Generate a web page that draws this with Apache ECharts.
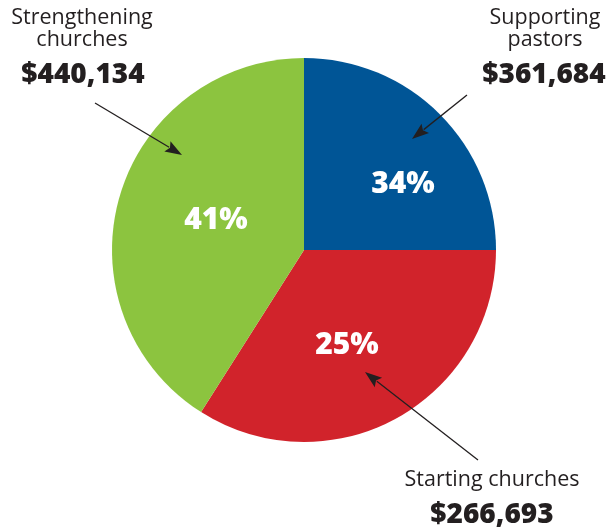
<!DOCTYPE html>
<html>
<head>
<meta charset="utf-8">
<script src="https://cdn.jsdelivr.net/npm/echarts@6/dist/echarts.min.js"></script>
<style>
  html, body { margin: 0; padding: 0; background: #ffffff; }
  #chart { width: 610px; height: 527px; }
</style>
</head>
<body>
<div id="chart"></div>
<script>
// ---- Data ----
const categories = ['Supporting pastors', 'Starting churches', 'Strengthening churches'];
const amountLabels = ['$361,684', '$266,693', '$440,134'];
const percentLabels = ['34%', '25%', '41%'];
// share of the circle each slice occupies as drawn in the reference (clockwise from 12 o'clock)
const sliceShares = [25, 34, 41];
const sliceColors = ['#005596', '#d1232b', '#8cc43f'];

const TEXT = '#231f20';
const FONT = '"Open Sans", "Noto Sans", sans-serif';

const chart = echarts.init(document.getElementById('chart'), null, { renderer: 'canvas' });

function arrow(x1, y1, x2, y2) {
  const dx = x2 - x1, dy = y2 - y1;
  const len = Math.sqrt(dx * dx + dy * dy);
  const ux = dx / len, uy = dy / len;
  const headLen = 17, halfW = 6;
  const bx = x2 - ux * headLen, by = y2 - uy * headLen;
  return [
    { type: 'line', silent: true, z: 100, shape: { x1: x1, y1: y1, x2: bx + ux * 2, y2: by + uy * 2 },
      style: { stroke: TEXT, lineWidth: 1.3 } },
    { type: 'polygon', silent: true, z: 100,
      shape: { points: [[x2, y2], [bx - uy * halfW, by + ux * halfW], [bx + ux * 3, by + uy * 3], [bx + uy * halfW, by - ux * halfW]] },
      style: { fill: TEXT } }
  ];
}

function textEl(x, y, t, font, fill) {
  return { type: 'text', silent: true, z: 100, x: x, y: y,
    style: { text: t, fill: fill, font: font, textAlign: 'center', textVerticalAlign: 'middle' } };
}

const REG = '21.5px ' + FONT;
const BOLD = '800 28px ' + FONT;

const graphics = [
  textEl(82, 18, 'Strengthening', REG, TEXT),
  textEl(82, 40, 'churches', REG, TEXT),
  textEl(83, 75, amountLabels[2], BOLD, TEXT),
  textEl(545, 18, 'Supporting', REG, TEXT),
  textEl(545, 40, 'pastors', REG, TEXT),
  textEl(544, 75, amountLabels[0], BOLD, TEXT),
  textEl(492, 480, 'Starting churches', REG, TEXT),
  textEl(492, 515, amountLabels[1], BOLD, TEXT),
  textEl(403, 184, percentLabels[0], '800 30px ' + FONT, '#ffffff'),
  textEl(216, 220, percentLabels[2], '800 30px ' + FONT, '#ffffff'),
  textEl(347, 345, percentLabels[1], '800 30px ' + FONT, '#ffffff')
]
  .concat(arrow(95, 103, 182, 155))
  .concat(arrow(467, 95, 412, 139))
  .concat(arrow(478, 460, 365, 372));

chart.setOption({
  animation: false,
  backgroundColor: '#ffffff',
  series: [{
    type: 'pie',
    center: [304, 250],
    radius: 192,
    startAngle: 90,
    clockwise: true,
    silent: true,
    z: 2,
    label: { show: false },
    labelLine: { show: false },
    emphasis: { disabled: true },
    itemStyle: { borderWidth: 0 },
    data: categories.map(function (c, i) {
      return { name: c, value: sliceShares[i], itemStyle: { color: sliceColors[i] } };
    })
  }],
  graphic: { elements: graphics }
});
</script>
</body>
</html>
